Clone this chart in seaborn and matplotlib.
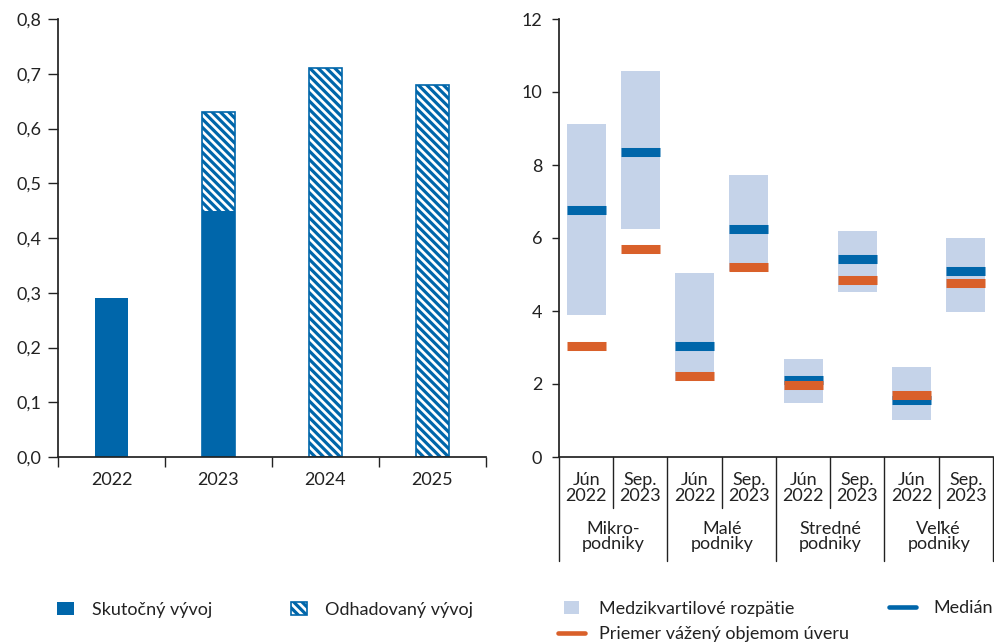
import numpy as np
import pandas as pd
import matplotlib.pyplot as plt
from matplotlib.lines import Line2D
from matplotlib.patches import Patch
import seaborn as sns

# left panel: bars by year
years = ['2022', '2023', '2024', '2025']
actual = [0.29, 0.45, np.nan, np.nan]
estimated = [np.nan, 0.63, 0.71, 0.68]
left_ticks = [0.0, 0.1, 0.2, 0.3, 0.4, 0.5, 0.6, 0.7, 0.8]

# right panel: interquartile range, median, weighted mean
periods = ['Jún\n2022', 'Sep.\n2023'] * 4
groups = ['Mikro-\npodniky', 'Malé\npodniky', 'Stredné\npodniky', 'Veľké\npodniky']
q1 = [3.89, 6.25, 2.08, 5.10, 1.48, 4.52, 1.01, 3.98]
q3 = [9.12, 10.58, 5.05, 7.73, 2.69, 6.19, 2.47, 5.99]
median = [6.76, 8.36, 3.04, 6.24, 2.10, 5.43, 1.56, 5.10]
mean_w = [3.04, 5.69, 2.21, 5.21, 1.96, 4.85, 1.70, 4.78]
right_ticks = [0, 2, 4, 6, 8, 10, 12]

blue = '#0066AA'
light = '#C5D3E9'
orange = '#D9602A'
ink = '#222222'
fs = 13

sns.set_theme(style='ticks')
plt.rcParams['font.family'] = ['Lato', 'DejaVu Sans']
plt.rcParams['hatch.linewidth'] = 2.3
plt.rcParams['hatch.color'] = blue
plt.rcParams['axes.edgecolor'] = ink
plt.rcParams['xtick.color'] = ink
plt.rcParams['ytick.color'] = ink
plt.rcParams['text.color'] = ink

W, H = 995, 642
fig = plt.figure(figsize=(W / 100, H / 100), dpi=100)
ax1 = fig.add_axes([58 / W, 1 - 457 / H, (486 - 58) / W, 438 / H])
ax2 = fig.add_axes([559 / W, 1 - 457 / H, (993 - 559) / W, 438 / H])

hatch = '\\\\\\\\'

# ---- left chart
df = pd.DataFrame({'rok': years, 'skutocny': actual, 'odhad': estimated})
sns.barplot(data=df, x='rok', y='odhad', order=years, color='white', saturation=1,
            edgecolor=blue, hatch=hatch, linewidth=1.2, width=0.31, ax=ax1)
sns.barplot(data=df, x='rok', y='skutocny', order=years, color=blue, saturation=1,
            linewidth=0, width=0.31, ax=ax1)
ax1.set_xlim(-0.5, 3.5)
ax1.set_ylim(0, 0.8)
ax1.set_yticks(left_ticks, [f'{v:.1f}'.replace('.', ',') for v in left_ticks])
ax1.set_xticks(range(4), years)
ax1.set_xticks([-0.5, 0.5, 1.5, 2.5, 3.5], minor=True)
ax1.tick_params(axis='x', which='major', length=0, pad=11, labelsize=fs)
ax1.tick_params(axis='x', which='minor', length=7, width=1)
ax1.tick_params(axis='y', length=7, width=1, pad=5, labelsize=fs)
ax1.set_xlabel('')
ax1.set_ylabel('')
sns.despine(ax=ax1)

# ---- right chart
x = np.arange(len(periods))
ax2.bar(x, np.array(q3) - np.array(q1), bottom=q1, width=0.72, color=light, linewidth=0)
ax2.hlines(median, x - 0.36, x + 0.36, color=blue, linewidth=6.5)
ax2.hlines(mean_w, x - 0.36, x + 0.36, color=orange, linewidth=6.5)
ax2.set_xlim(-0.5, 7.5)
ax2.set_ylim(0, 12)
ax2.set_yticks(right_ticks)
ax2.tick_params(axis='y', length=5, width=1, pad=7, labelsize=fs)
ax2.set_xticks(x, periods)
ax2.tick_params(axis='x', length=0, pad=11, labelsize=fs)
for lab in ax2.get_xticklabels():
    lab.set_linespacing(0.95)
sns.despine(ax=ax2)

tr = ax2.get_xaxis_transform()
for i in range(9):
    xb = i - 0.5
    y_end = -0.237 if i % 2 == 0 else -0.117
    ax2.plot([xb, xb], [0, y_end], transform=tr, color=ink, lw=1, clip_on=False)
for i, g in enumerate(groups):
    ax2.text(2 * i + 0.5, -0.146, g, transform=tr, ha='center', va='top',
             fontsize=fs, linespacing=0.95)


# ---- legends
def add_legend(handle, label, x_px, y_px, hl, hh, htp):
    fig.legend([handle], [label], loc='center left',
               bbox_to_anchor=(x_px / W, 1 - y_px / H), frameon=False,
               borderpad=0, borderaxespad=0, handlelength=hl, handleheight=hh,
               handletextpad=htp, fontsize=fs)


add_legend(Patch(facecolor=blue, linewidth=0), 'Skutočný vývoj', 57, 610, 0.92, 0.68, 1.0)
add_legend(Patch(facecolor='white', edgecolor=blue, hatch=hatch, linewidth=1.2),
           'Odhadovaný vývoj', 291, 610, 0.88, 0.7, 1.0)
add_legend(Patch(facecolor=light, linewidth=0), 'Medzikvartilové rozpätie', 564, 609, 0.83, 0.72, 1.1)
add_legend(Line2D([], [], color=blue, lw=3.3), 'Medián', 889, 608, 1.5, 0.7, 0.94)
add_legend(Line2D([], [], color=orange, lw=3.3), 'Priemer vážený objemom úveru', 558, 634, 1.5, 0.7, 0.78)

fig.savefig('out.png', dpi=100)
